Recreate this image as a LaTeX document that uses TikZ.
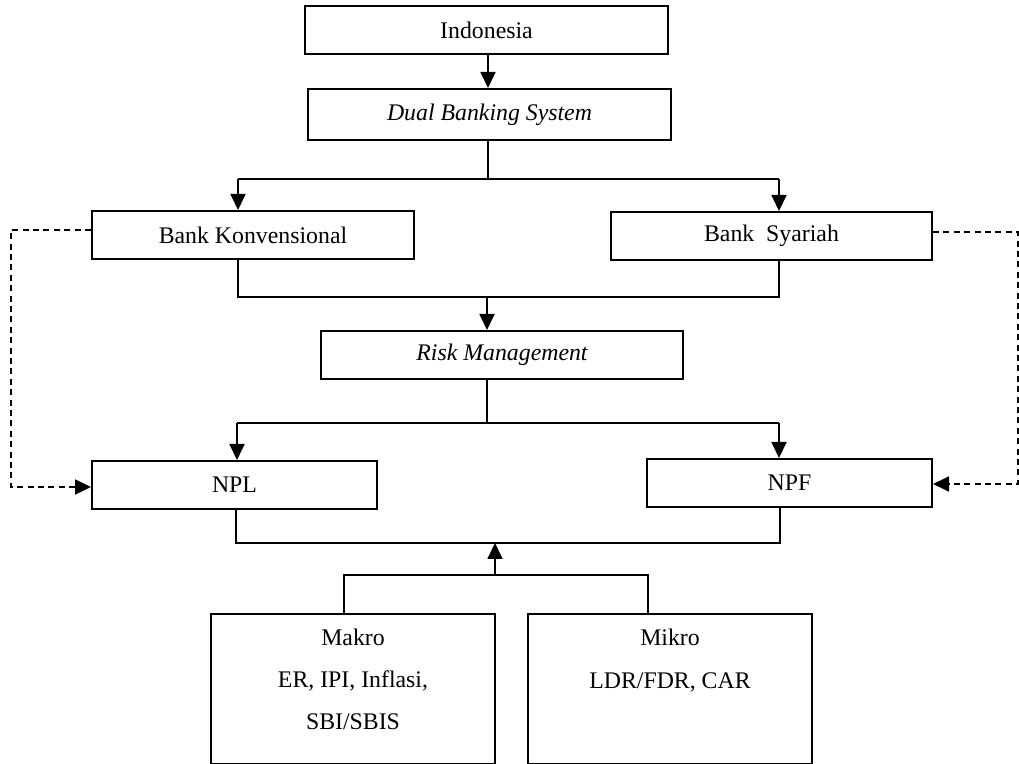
\documentclass[tikz,border=0pt]{standalone}
\usepackage{fontspec}
\setmainfont{Liberation Serif}
\usetikzlibrary{arrows.meta}
\begin{document}
\begin{tikzpicture}[x=0.5pt,y=-0.5pt,
  box/.style={draw, line width=1pt, rectangle, inner sep=0pt, minimum height=24pt,
    font=\fontsize{11.9pt}{14pt}\selectfont},
  txt/.style={inner sep=0pt, anchor=base, font=\fontsize{11.9pt}{14pt}\selectfont},
  conn/.style={line width=0.9pt},
  arr/.style={conn, -{Triangle[length=8pt,width=7.5pt]}},
  dashconn/.style={conn, dash pattern=on 3pt off 2.2pt, -{Triangle[length=8pt,width=7.5pt]}}
]
\useasboundingbox (0,0) rectangle (1019,764);

% boxes
\node[box, minimum width=181.5pt] (ind) at (486.5,30) {Indonesia};
\node[box, minimum width=181.5pt, minimum height=25.5pt] (dual) at (489.5,114.5) {\itshape Dual Banking System};
\node[box, minimum width=161pt] (bk) at (253,235) {Bank Konvensional};
\node[box, minimum width=160.5pt] (bs) at (771.5,236) {Bank~~Syariah};
\node[box, minimum width=181pt] (risk) at (502,355) {\itshape Risk Management};
\node[box, minimum width=142.5pt] (npl) at (234.5,485) {NPL};
\node[box, minimum width=142.5pt] (npf) at (789.5,483) {NPF};
\node[box, minimum width=142pt, minimum height=75pt] (makro) at (353,689) {};
\node[box, minimum width=142pt, minimum height=75pt] (mikro) at (670,689) {};

% texts in lower boxes
\node[txt] (mk1) at (353,646) {Makro};
\node[txt] (mk2) at (353,688) {ER, IPI, Inflasi,};
\node[txt] (mk3) at (353,730) {SBI/SBIS};
\node[txt] (mi1) at (670,646) {Mikro};
\node[txt] (mi2) at (670,689) {LDR/FDR, CAR};

% Indonesia -> Dual
\coordinate (c0) at (488,0);
\draw[arr] (ind.south -| c0) -- (dual.north -| c0);

% Dual -> banks
\coordinate (xa) at (488,179);
\coordinate (bkj) at (238,179);
\coordinate (bsj) at (779,179);
\draw[conn] (dual.south -| xa) -- (xa);
\draw[conn] (bkj) -- (bsj);
\draw[arr] (bkj) -- (bk.north -| bkj);
\draw[arr] (bsj) -- (bs.north -| bsj);

% banks -> risk
\coordinate (r1) at (238,297);
\coordinate (r2) at (779,297);
\coordinate (rj) at (487,297);
\draw[conn] (bk.south -| r1) -- (r1) -- (r2) -- (bs.south -| r2);
\draw[arr] (rj) -- (risk.north -| rj);

% risk -> NPL / NPF
\coordinate (q) at (487,423);
\coordinate (q1) at (237,423);
\coordinate (q2) at (779,423);
\draw[conn] (risk.south -| q) -- (q);
\draw[conn] (q1) -- (q2);
\draw[arr] (q1) -- (npl.north -| q1);
\draw[arr] (q2) -- (npf.north -| q2);

% NPL / NPF join
\coordinate (n1) at (236,543);
\coordinate (n2) at (780,543);
\draw[conn] (npl.south -| n1) -- (n1) -- (n2) -- (npf.south -| n2);

% Makro / Mikro join
\coordinate (m1) at (344,575);
\coordinate (m2) at (648,575);
\coordinate (mj) at (495,575);
\coordinate (mt) at (495,543);
\draw[conn] (makro.north -| m1) -- (m1) -- (m2) -- (mikro.north -| m2);
\draw[arr] (mj) -- (mt);

% dashed connectors
\coordinate (dl1) at (11,230);
\coordinate (dl2) at (11,487);
\draw[dashconn] (bk.west |- dl1) -- (dl1) -- (dl2) -- (npl.west |- dl2);
\coordinate (dr1) at (1018,232);
\coordinate (dr2) at (1018,484);
\draw[dashconn] (bs.east |- dr1) -- (dr1) -- (dr2) -- (npf.east |- dr2);
\end{tikzpicture}
\end{document}
